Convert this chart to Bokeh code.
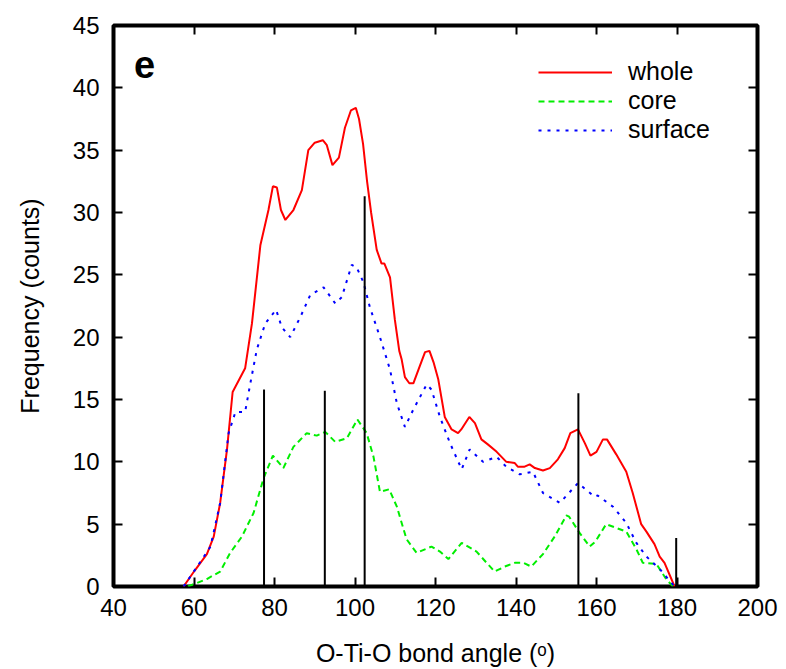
from bokeh.plotting import figure
from bokeh.models import Range1d, LinearAxis, Legend, LegendItem, Label, FixedTicker
from bokeh.embed import file_html
from bokeh.resources import INLINE

# --- data ---
whole_x = [57.4, 60.0, 63.2, 64.9, 66.5, 68.2, 69.6, 72.7, 74.4, 76.5, 78.5, 79.6, 80.6, 81.6, 82.7,
           84.7, 86.8, 88.4, 90.0, 92.0, 93.0, 94.4, 96.0, 97.5, 99.0, 100.2, 101.0, 102.0, 103.0,
           104.0, 105.4, 106.6, 107.3, 108.7, 109.9, 111.0, 111.6, 112.4, 113.5, 114.5, 116.0, 117.4,
           118.5, 119.5, 120.7, 122.3, 124.0, 125.6, 126.4, 128.4, 129.8, 131.4, 133.0, 135.2, 137.6,
           139.7, 140.5, 142.0, 143.4, 144.7, 146.7, 148.4, 150.4, 152.1, 153.5, 155.4, 157.1, 158.5,
           160.0, 161.6, 162.6, 164.9, 167.4, 169.0, 171.1, 172.4, 174.4, 175.7, 176.9, 179.4]
whole_y = [0.0, 1.2, 2.6, 4.0, 6.7, 11.0, 15.6, 17.5, 21.1, 27.4, 30.2, 32.1, 32.0, 30.2, 29.4,
           30.2, 31.8, 35.0, 35.6, 35.8, 35.4, 33.8, 34.4, 36.8, 38.2, 38.4, 37.5, 35.5, 32.5,
           30.0, 27.0, 25.9, 25.9, 24.8, 21.4, 18.9, 18.2, 16.8, 16.3, 16.3, 17.6, 18.8,
           18.9, 18.0, 16.6, 13.6, 12.6, 12.3, 12.6, 13.6, 13.1, 11.8, 11.4, 10.8, 10.0,
           9.9, 9.6, 9.6, 9.8, 9.5, 9.3, 9.5, 10.2, 11.1, 12.3, 12.6, 11.5, 10.5,
           10.8, 11.8, 11.8, 10.6, 9.2, 7.5, 5.0, 4.4, 3.4, 2.4, 1.9, 0.0]

core_x = [58.5, 63.2, 66.5, 69.0, 71.9, 74.8, 77.3, 79.6, 82.2, 84.7, 88.0, 90.5, 92.6, 95.1, 98.0,
          100.6, 102.9, 104.6, 106.2, 108.5, 110.4, 112.8, 115.3, 119.0, 121.1, 123.2, 126.5, 130.2,
          132.7, 134.7, 137.2, 139.7, 141.8, 143.8, 146.7, 149.6, 152.5, 153.2, 155.8, 158.3, 159.7,
          162.4, 164.9, 167.4, 169.9, 171.5, 174.9, 177.3, 179.0]
core_y = [0.0, 0.6, 1.2, 2.7, 4.0, 5.9, 8.7, 10.5, 9.5, 11.2, 12.3, 12.1, 12.4, 11.6, 11.9,
          13.4, 12.3, 10.4, 7.6, 7.8, 6.4, 3.8, 2.7, 3.2, 2.8, 2.2, 3.5, 2.8,
          1.9, 1.2, 1.6, 1.9, 1.9, 1.6, 2.6, 4.0, 5.7, 5.6, 4.3, 3.2, 3.6,
          5.0, 4.7, 4.4, 3.0, 1.9, 1.8, 0.6, 0.0]

surf_x = [57.4, 60.8, 64.1, 66.5, 68.6, 70.3, 72.7, 74.0, 75.6, 77.7, 80.4, 81.8, 83.9, 86.4, 88.9,
          92.2, 95.1, 96.7, 99.2, 100.4, 102.1, 103.7, 106.2, 108.7, 110.4, 112.4, 114.5, 117.8,
          119.0, 121.1, 123.6, 126.5, 128.5, 131.8, 135.2, 137.6, 140.9, 144.2, 146.7, 150.9,
          155.4, 159.5, 160.3, 164.1, 167.4, 169.9, 172.4, 175.7, 179.4]
surf_y = [0.0, 1.6, 3.2, 6.7, 12.3, 14.0, 14.0, 16.3, 19.0, 21.1, 22.2, 20.8, 20.0, 21.6, 23.4,
          24.0, 22.7, 23.2, 25.8, 25.6, 24.4, 22.4, 20.0, 17.4, 14.7, 12.8, 14.2, 16.2,
          15.8, 13.6, 11.5, 9.4, 11.0, 10.0, 10.4, 9.6, 9.0, 9.2, 7.5, 6.7,
          8.3, 7.2, 7.3, 6.4, 5.1, 3.5, 2.4, 1.4, 0.0]

stick_x = [77.4, 92.5, 102.4, 155.5, 179.8]
stick_h = [15.8, 15.7, 31.3, 15.5, 3.9]

x_ticks = [40, 60, 80, 100, 120, 140, 160, 180, 200]
y_ticks = [0, 5, 10, 15, 20, 25, 30, 35, 40, 45]
labels = ["whole", "core", "surface"]

FONT = "Liberation Sans"

p = figure(width=786, height=669, output_backend="svg", toolbar_location=None,
           x_range=Range1d(40, 200), y_range=Range1d(0, 45),
           min_border_left=113, min_border_right=29, min_border_top=25, min_border_bottom=82)
p.xgrid.visible = False
p.ygrid.visible = False
p.outline_line_color = "black"
p.outline_line_width = 4
p.background_fill_color = "white"
p.border_fill_color = "white"

def style_axis(ax, show_labels):
    ax.axis_line_color = None
    ax.major_tick_in = 9
    ax.major_tick_out = 0
    ax.major_tick_line_width = 2
    ax.major_tick_line_color = "black"
    ax.minor_tick_line_color = None
    ax.major_label_text_font = FONT
    ax.major_label_text_font_size = "24px"
    ax.major_label_text_color = "black"
    if not show_labels:
        ax.major_label_text_font_size = "0px"
        ax.major_label_text_alpha = 0

xa = p.xaxis[0]
ya = p.yaxis[0]
xa.ticker = FixedTicker(ticks=x_ticks)
ya.ticker = FixedTicker(ticks=y_ticks)
style_axis(xa, True)
style_axis(ya, True)
xa.major_label_standoff = 12
ya.major_label_standoff = 14
xa.axis_label = "O-Ti-O bond angle (\u1d52)"
ya.axis_label = "Frequency (counts)"
for ax in (xa, ya):
    ax.axis_label_text_font = FONT
    ax.axis_label_text_font_size = "25px"
    ax.axis_label_text_font_style = "normal"
    ax.axis_label_text_color = "black"
xa.axis_label_standoff = 20
ya.axis_label_standoff = 26

top = LinearAxis(ticker=FixedTicker(ticks=x_ticks))
right = LinearAxis(ticker=FixedTicker(ticks=y_ticks))
style_axis(top, False)
style_axis(right, False)
p.add_layout(top, "above")
p.add_layout(right, "right")

r_whole = p.line(whole_x, whole_y, line_color="#ff0000", line_width=2)
r_core = p.line(core_x, core_y, line_color="#00ee00", line_width=2, line_dash="6 4")
r_surf = p.line(surf_x, surf_y, line_color="#0000ff", line_width=2, line_dash="3 6")

p.segment(x0=stick_x, y0=[0] * len(stick_x), x1=stick_x, y1=stick_h,
          line_color="black", line_width=2)

legend = Legend(items=[LegendItem(label=labels[0], renderers=[r_whole]),
                       LegendItem(label=labels[1], renderers=[r_core]),
                       LegendItem(label=labels[2], renderers=[r_surf])],
                location=(425, 442), glyph_width=74, glyph_height=22, label_height=22,
                label_standoff=16, spacing=0, padding=0, margin=0,
                border_line_color=None, background_fill_alpha=0,
                label_text_font=FONT, label_text_font_size="25px", label_text_color="black",
                label_text_line_height=1.0)
p.add_layout(legend, "center")

p.add_layout(Label(x=47.7, y=41.9, text="e", text_font=FONT, text_font_size="38px",
                   text_font_style="bold", text_align="center", text_baseline="middle",
                   text_color="black"))

open("out.html", "w").write(file_html(p, INLINE))
